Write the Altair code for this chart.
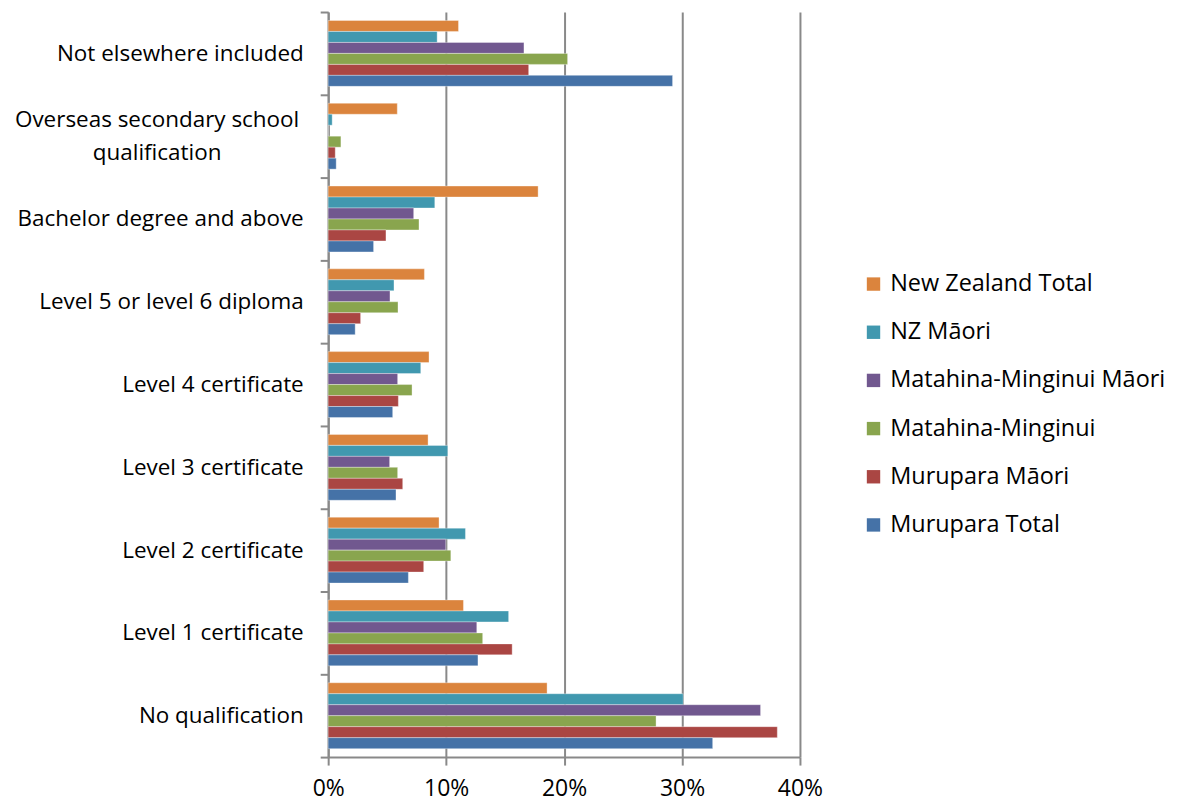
import altair as alt
import pandas as pd

categories = [
    "Not elsewhere included",
    "Overseas secondary school qualification",
    "Bachelor degree and above",
    "Level 5 or level 6 diploma",
    "Level 4 certificate",
    "Level 3 certificate",
    "Level 2 certificate",
    "Level 1 certificate",
    "No qualification",
]
series = [
    "New Zealand Total",
    "NZ Māori",
    "Matahina-Minginui Māori",
    "Matahina-Minginui",
    "Murupara Māori",
    "Murupara Total",
]
colors = ["#DB843D", "#4198AF", "#71588F", "#89A54E", "#AA4643", "#4572A7"]

# percentages, in category order
nz_total = [11.05, 5.86, 17.8, 8.16, 8.55, 8.47, 9.4, 11.47, 18.56]
nz_maori = [9.24, 0.34, 9.04, 5.58, 7.85, 10.14, 11.64, 15.3, 30.1]
mm_maori = [16.6, 0.0, 7.25, 5.24, 5.89, 5.21, 9.97, 12.6, 36.66]
mm_total = [20.3, 1.08, 7.7, 5.92, 7.11, 5.89, 10.4, 13.1, 27.8]
mur_maori = [17.0, 0.6, 4.9, 2.75, 5.95, 6.32, 8.1, 15.6, 38.08]
mur_total = [29.2, 0.68, 3.85, 2.29, 5.47, 5.75, 6.8, 12.7, 32.6]

x_ticks = [0, 0.1, 0.2, 0.3, 0.4]

rows = []
for s, vals in zip(series, [nz_total, nz_maori, mm_maori, mm_total, mur_maori, mur_total]):
    for c, v in zip(categories, vals):
        rows.append({"category": c, "series": s, "value": v / 100})
df = pd.DataFrame(rows)

two_line = "Overseas secondary school qualification"
is_two = f"datum.value == '{two_line}'"
gray = "#898989"
FONT = "Open Sans"
FS_Y = 22.5
FS_LEG = 23.5

chart = (
    alt.Chart(df)
    .mark_bar(stroke="white", strokeOpacity=0.35, strokeWidth=1)
    .encode(
        y=alt.Y(
            "category:N",
            sort=categories,
            title=None,
            scale=alt.Scale(paddingInner=0, paddingOuter=0),
            axis=alt.Axis(
                tickBand="extent",
                tickSize=8,
                tickColor=gray,
                tickWidth=2,
                domainColor=gray,
                domainWidth=2,
                grid=False,
                labelFontSize=FS_Y,
                labelColor="black",
                labelLimit=400,
                labelLineHeight=33,
                labelExpr=f"{is_two} ? ['Overseas secondary school', 'qualification'] : datum.label",
                labelAlign={"condition": {"test": is_two, "value": "center"}, "value": "right"},
                labelPadding={"condition": {"test": is_two, "value": 164}, "value": 17},
                labelOffset={"condition": {"test": is_two, "value": -16.5}, "value": 0},
            ),
        ),
        yOffset=alt.YOffset(
            "series:N", sort=series, scale=alt.Scale(paddingInner=0, paddingOuter=0.77)
        ),
        x=alt.X(
            "value:Q",
            title=None,
            scale=alt.Scale(domain=[0, 0.4], nice=False),
            axis=alt.Axis(
                values=x_ticks,
                format=".0%",
                grid=True,
                gridColor=gray,
                gridWidth=2,
                domainColor=gray,
                domainWidth=2,
                tickColor=gray,
                tickWidth=2,
                tickSize=8,
                labelFontSize=23,
                labelColor="black",
                labelPadding=13,
                labelFlush=False,
                labelOverlap=False,
            ),
        ),
        color=alt.Color(
            "series:N",
            sort=series,
            scale=alt.Scale(domain=series, range=colors),
            legend=alt.Legend(
                title=None,
                orient="none",
                legendX=535,
                legendY=261,
                symbolType="square",
                symbolSize=180,
                symbolStrokeWidth=0,
                symbolOpacity=1,
                labelFontSize=FS_LEG,
                labelColor="black",
                labelLimit=400,
                rowPadding=23.3,
                labelOffset=5,
            ),
        ),
    )
    .properties(
        width=473,
        height=747,
        autosize=alt.AutoSizeParams(type="none"),
        padding={"top": 3, "left": 321, "right": 370, "bottom": 46},
    )
    .configure(font=FONT)
    .configure_view(stroke=None)
)

chart.save("out.html", embed_options={"renderer": "svg", "actions": False})
